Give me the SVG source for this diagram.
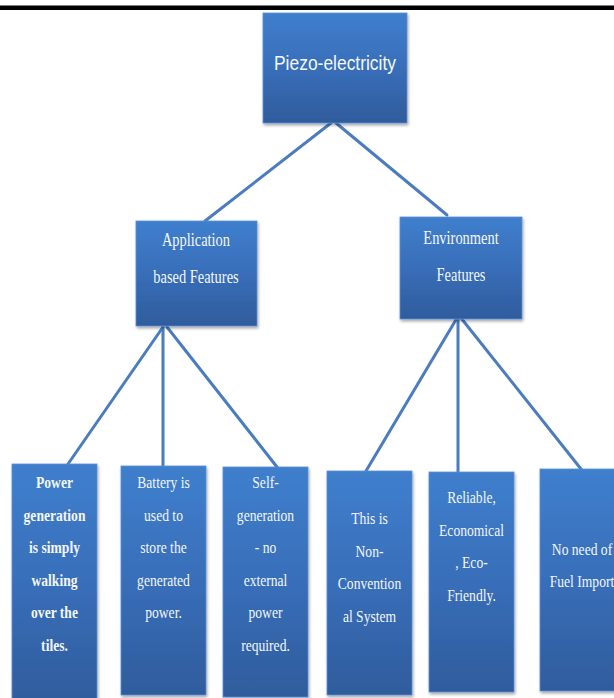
<svg xmlns="http://www.w3.org/2000/svg" width="614" height="698" viewBox="0 0 614 698">
<defs>
<linearGradient id="boxGrad" x1="0" y1="0" x2="0" y2="1">
<stop offset="0" stop-color="#3f7fcd"/>
<stop offset="0.5" stop-color="#386eb9"/>
<stop offset="1" stop-color="#2f5c9c"/>
</linearGradient>
<filter id="shadow" x="-10%" y="-10%" width="125%" height="125%">
<feDropShadow dx="1" dy="2" stdDeviation="1.5" flood-color="#000" flood-opacity="0.35"/>
</filter>
</defs>
<style>
.box{fill:url(#boxGrad);stroke:#5a8fd4;stroke-width:0.8;filter:url(#shadow);}
.conn line{stroke:#4a7cbf;stroke-width:3;stroke-linecap:round;}
.sans{font-family:"Liberation Sans","Open Sans",sans-serif;fill:#f4f7fc;font-size:19.5px;text-anchor:middle;}
.serif{font-family:"Liberation Serif","Times New Roman",serif;fill:#f4f7fc;text-anchor:middle;}
.mid{font-size:18.5px;}
.leaf{font-size:17px;}
.bold{font-weight:bold;}
</style>
<rect x="0" y="0" width="614" height="698" fill="#ffffff"/>
<rect x="0" y="5.5" width="614" height="4.5" fill="#000000"/>
<g id="connectors" class="conn">
<line x1="331" y1="123" x2="205" y2="221"/>
<line x1="336" y1="123" x2="447" y2="215"/>
<line x1="163" y1="327" x2="68" y2="464"/>
<line x1="163" y1="327" x2="163" y2="466"/>
<line x1="167" y1="327" x2="277" y2="467"/>
<line x1="457" y1="318" x2="366" y2="471"/>
<line x1="458" y1="318" x2="458" y2="472"/>
<line x1="461" y1="318" x2="581" y2="469"/>
</g>
<g id="piezo">
<rect class="box" x="263" y="13" width="144" height="110"/>
<text class="sans" x="335" y="70" textLength="122" lengthAdjust="spacingAndGlyphs">Piezo-electricity</text>
</g>
<g id="application">
<rect class="box" x="136" y="221" width="121" height="105"/>
<g transform="translate(196,0) scale(0.78,1)">
<text class="serif mid" x="0" y="246">Application</text>
<text class="serif mid" x="0" y="283">based Features</text>
</g>
</g>
<g id="environment">
<rect class="box" x="400" y="217" width="122" height="102"/>
<g transform="translate(461,0) scale(0.78,1)">
<text class="serif mid" x="0" y="244">Environment</text>
<text class="serif mid" x="0" y="281">Features</text>
</g>
</g>
<g id="leaf1">
<rect class="box" x="12" y="464" width="85" height="240"/>
<g transform="translate(54.5,0) scale(0.8,1)">
<text class="serif leaf bold" x="0" y="488.5">Power</text>
<text class="serif leaf bold" x="0" y="521">generation</text>
<text class="serif leaf bold" x="0" y="553.5">is simply</text>
<text class="serif leaf bold" x="0" y="586">walking</text>
<text class="serif leaf bold" x="0" y="618.5">over the</text>
<text class="serif leaf bold" x="0" y="651">tiles.</text>
</g>
</g>
<g id="leaf2">
<rect class="box" x="121" y="466" width="85" height="229"/>
<g transform="translate(163.5,0) scale(0.8,1)">
<text class="serif leaf" x="0" y="488.5">Battery is</text>
<text class="serif leaf" x="0" y="521">used to</text>
<text class="serif leaf" x="0" y="553.5">store the</text>
<text class="serif leaf" x="0" y="586">generated</text>
<text class="serif leaf" x="0" y="618.5">power.</text>
</g>
</g>
<g id="leaf3">
<rect class="box" x="223" y="467" width="85" height="230"/>
<g transform="translate(265.5,0) scale(0.8,1)">
<text class="serif leaf" x="0" y="488.5">Self-</text>
<text class="serif leaf" x="0" y="521">generation</text>
<text class="serif leaf" x="0" y="553.5">- no</text>
<text class="serif leaf" x="0" y="586">external</text>
<text class="serif leaf" x="0" y="618.5">power</text>
<text class="serif leaf" x="0" y="651">required.</text>
</g>
</g>
<g id="leaf4">
<rect class="box" x="327" y="471" width="85" height="224"/>
<g transform="translate(369.5,0) scale(0.8,1)">
<text class="serif leaf" x="0" y="524.5">This is</text>
<text class="serif leaf" x="0" y="557">Non-</text>
<text class="serif leaf" x="0" y="589.5">Convention</text>
<text class="serif leaf" x="0" y="622">al System</text>
</g>
</g>
<g id="leaf5">
<rect class="box" x="429" y="472" width="85" height="220"/>
<g transform="translate(471.5,0) scale(0.8,1)">
<text class="serif leaf" x="0" y="503.5">Reliable,</text>
<text class="serif leaf" x="0" y="536">Economical</text>
<text class="serif leaf" x="0" y="568.5">, Eco-</text>
<text class="serif leaf" x="0" y="601">Friendly.</text>
</g>
</g>
<g id="leaf6">
<rect class="box" x="540" y="469" width="85" height="222"/>
<g transform="translate(582,0) scale(0.8,1)">
<text class="serif leaf" x="0" y="555.5">No need of</text>
<text class="serif leaf" x="0" y="587.5">Fuel Import</text>
</g>
</g>
</svg>
